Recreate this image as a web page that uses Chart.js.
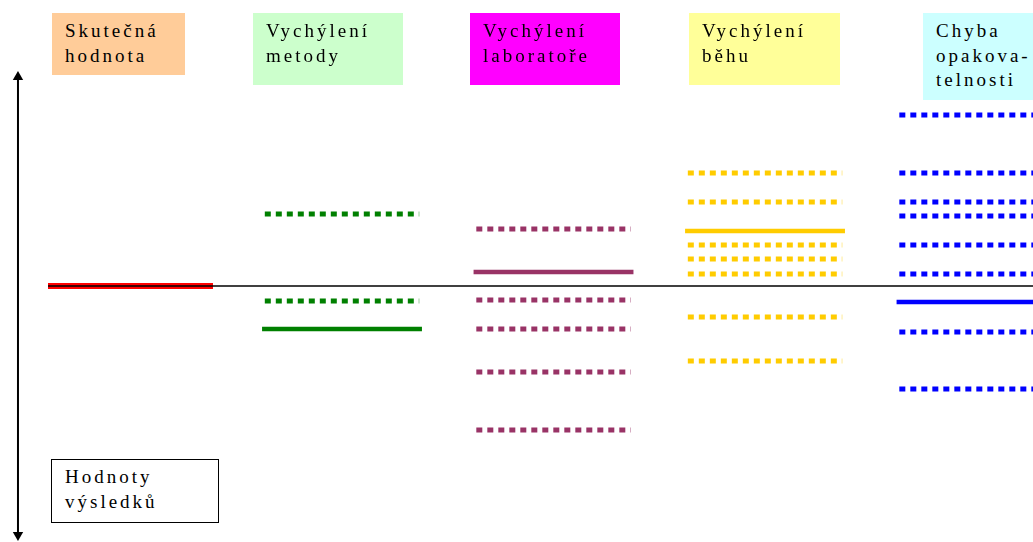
<!DOCTYPE html>
<html lang="cs">
<head>
<meta charset="utf-8">
<title>Chyby měření</title>
<script src="https://cdn.jsdelivr.net/npm/chart.js@4.4.1/dist/chart.umd.min.js"></script>
<style>
  html, body { margin: 0; padding: 0; background: #ffffff; }
  #wrap { position: relative; width: 1033px; height: 542px; overflow: hidden; }
  #chart { position: absolute; left: 0; top: 0; }
  .box {
    position: absolute;
    box-sizing: border-box;
    font-family: "Liberation Serif", "DejaVu Serif", serif;
    font-size: 19px;
    line-height: 24.5px;
    letter-spacing: 3px;
    color: #000;
    padding: 6px 0 0 13px;
    white-space: nowrap;
  }
</style>
</head>
<body>
<div id="wrap">
  <canvas id="chart" width="1033" height="542"></canvas>
</div>
<script>
// sloupce diagramu
const columns = ['Skutečná hodnota', 'Vychýlení metody', 'Vychýlení laboratoře', 'Vychýlení běhu', 'Chyba opakovatelnosti'];
const headerLines = [['Skutečná', 'hodnota'], ['Vychýlení', 'metody'], ['Vychýlení', 'laboratoře'], ['Vychýlení', 'běhu'], ['Chyba', 'opakova-', 'telnosti']];
const colors = ['#ff0000', '#008000', '#993366', '#ffcc00', '#0000ff'];
const boxColors = ['#ffcc99', '#ccffcc', '#ff00ff', '#ffff99', '#ccffff'];

// hodnoty (skutečná hodnota = 0)
const trueValue = 0;
const methodBias = -43;
const methodResults = [72, -15];
const labBias = 14;
const labResults = [57, -14, -43, -86, -144];
const runBias = 55;
const runResults = [113, 84, 41, 27, 12, -31, -75];
const repeatBias = -16;
const repeatResults = [171, 113, 84, 70, 41, 12, -46, -103];

const axisLabel = ['Hodnoty', 'výsledků'];
const axisTop = 209;
const axisBottom = -249;

const biases = [trueValue, methodBias, labBias, runBias, repeatBias];
const results = [[], methodResults, labResults, runResults, repeatResults];

const xMin = -0.617, xMax = 4.267;
const yMin = -256, yMax = 286;

function segment(col, value, half, color, dashed) {
    return {
        type: 'line',
        data: [{ x: col - half, y: value }, { x: col + half, y: value }],
        borderColor: color,
        borderWidth: dashed ? 5 : (col === 0 ? 6 : 4.5),
        borderDash: dashed ? [6, 5] : [],
        borderCapStyle: 'butt',
        pointRadius: 0,
        order: 2
    };
}

const datasets = [];
results.forEach((vals, i) => {
    vals.forEach(v => datasets.push(segment(i, v, 0.365, colors[i], true)));
});
biases.forEach((v, i) => datasets.push(segment(i, v, i === 0 ? 0.39 : 0.378, colors[i], false)));

// referenční čára skutečné hodnoty
datasets.push({
    type: 'line',
    data: [{ x: -0.39, y: trueValue }, { x: xMax, y: trueValue }],
    borderColor: '#000000',
    borderWidth: 1.5,
    pointRadius: 0,
    order: 0
});

// osa s šipkami
datasets.push({
    type: 'line',
    data: [{ x: -0.532, y: axisTop }, { x: -0.532, y: axisBottom }],
    borderColor: '#000000',
    borderWidth: 2,
    pointStyle: 'triangle',
    pointRadius: 6,
    pointRotation: [0, 180],
    pointBackgroundColor: '#000000',
    pointBorderColor: '#000000',
    pointBorderWidth: 0,
    clip: false,
    order: 0
});

const chart = new Chart(document.getElementById('chart'), {
    type: 'line',
    data: { datasets: datasets },
    options: {
        responsive: false,
        animation: false,
        layout: { padding: 0, autoPadding: false },
        plugins: { legend: { display: false }, tooltip: { enabled: false } },
        scales: {
            x: { type: 'linear', display: false, min: xMin, max: xMax },
            y: { type: 'linear', display: false, min: yMin, max: yMax }
        }
    }
});

// popisky sloupců
const wrap = document.getElementById('wrap');
const boxes = [
    { left: 52, top: 13, width: 133, height: 62 },
    { left: 253, top: 13, width: 150, height: 72 },
    { left: 470, top: 13, width: 150, height: 72 },
    { left: 689, top: 13, width: 151, height: 72 },
    { left: 923, top: 13, width: 120, height: 87 }
];
headerLines.forEach((lines, i) => {
    const d = document.createElement('div');
    d.className = 'box';
    d.title = columns[i];
    Object.assign(d.style, {
        left: boxes[i].left + 'px', top: boxes[i].top + 'px',
        width: boxes[i].width + 'px', height: boxes[i].height + 'px',
        background: boxColors[i]
    });
    d.innerHTML = lines.join('<br>');
    wrap.appendChild(d);
});

const lab = document.createElement('div');
lab.className = 'box';
Object.assign(lab.style, {
    left: '51px', top: '459px', width: '168px', height: '64px',
    border: '1px solid #000', background: '#fff', paddingLeft: '13px', paddingTop: '5px'
});
lab.innerHTML = axisLabel.join('<br>');
wrap.appendChild(lab);
</script>
</body>
</html>
